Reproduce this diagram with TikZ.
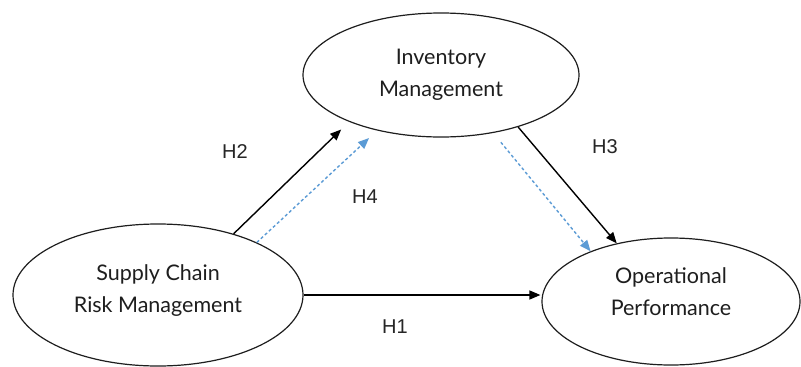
\documentclass[tikz,border=0pt]{standalone}
\usepackage{fontspec}
\setmainfont{Lato}
\newfontfamily\labfont{Liberation Sans}
\usetikzlibrary{arrows.meta,shapes.geometric}
\definecolor{linkblue}{RGB}{91,155,213}
\definecolor{inkgray}{RGB}{30,30,30}
\tikzset{
  construct/.style={ellipse,draw=inkgray,line width=1.2pt,inner sep=0pt,align=center,
    font=\fontsize{21.5}{32}\selectfont,text=inkgray},
  hyplabel/.style={font=\labfont\fontsize{20}{24}\selectfont,text=black!85},
  direct/.style={line width=1.4pt,-{Triangle[length=11pt,width=9pt]}},
  mediated/.style={line width=1.4pt,linkblue,dash pattern=on 3pt off 2.5pt,
    -{Triangle[length=11pt,width=9pt]}}
}
\begin{document}
\begin{tikzpicture}[x=1pt,y=-1pt]
\useasboundingbox[fill=white] (0,0) rectangle (801,367);
\node[construct,minimum width=276pt,minimum height=124pt] (inv) at (441,75) {Inventory\\Management};
\node[construct,minimum width=290pt,minimum height=142pt,text depth=13pt] (scrm) at (158,295) {Supply Chain\\Risk Management};
\node[construct,minimum width=258pt,minimum height=127pt,text depth=20pt] (op) at (671,301.5) {Operational\\Performance};

\draw[direct] (scrm.east) -- ([xshift=-1pt]scrm.east -| op.west);
\draw[direct,shorten >=11pt] (scrm.39) -- (inv.207.7);
\draw[mediated,shorten >=11pt] (scrm.28.2) -- (inv.221.5);
\draw[direct] (inv.-34) -- (op.133.5);
\draw[mediated,shorten <=12pt] (inv.-48.3) -- (op.148.8);

\node[hyplabel] (h1) at (395,327) {H1};
\node[hyplabel] (h2) at (235,152) {H2};
\node[hyplabel] (h3) at (605,147) {H3};
\node[hyplabel] (h4) at (365,197) {H4};
\end{tikzpicture}
\end{document}
